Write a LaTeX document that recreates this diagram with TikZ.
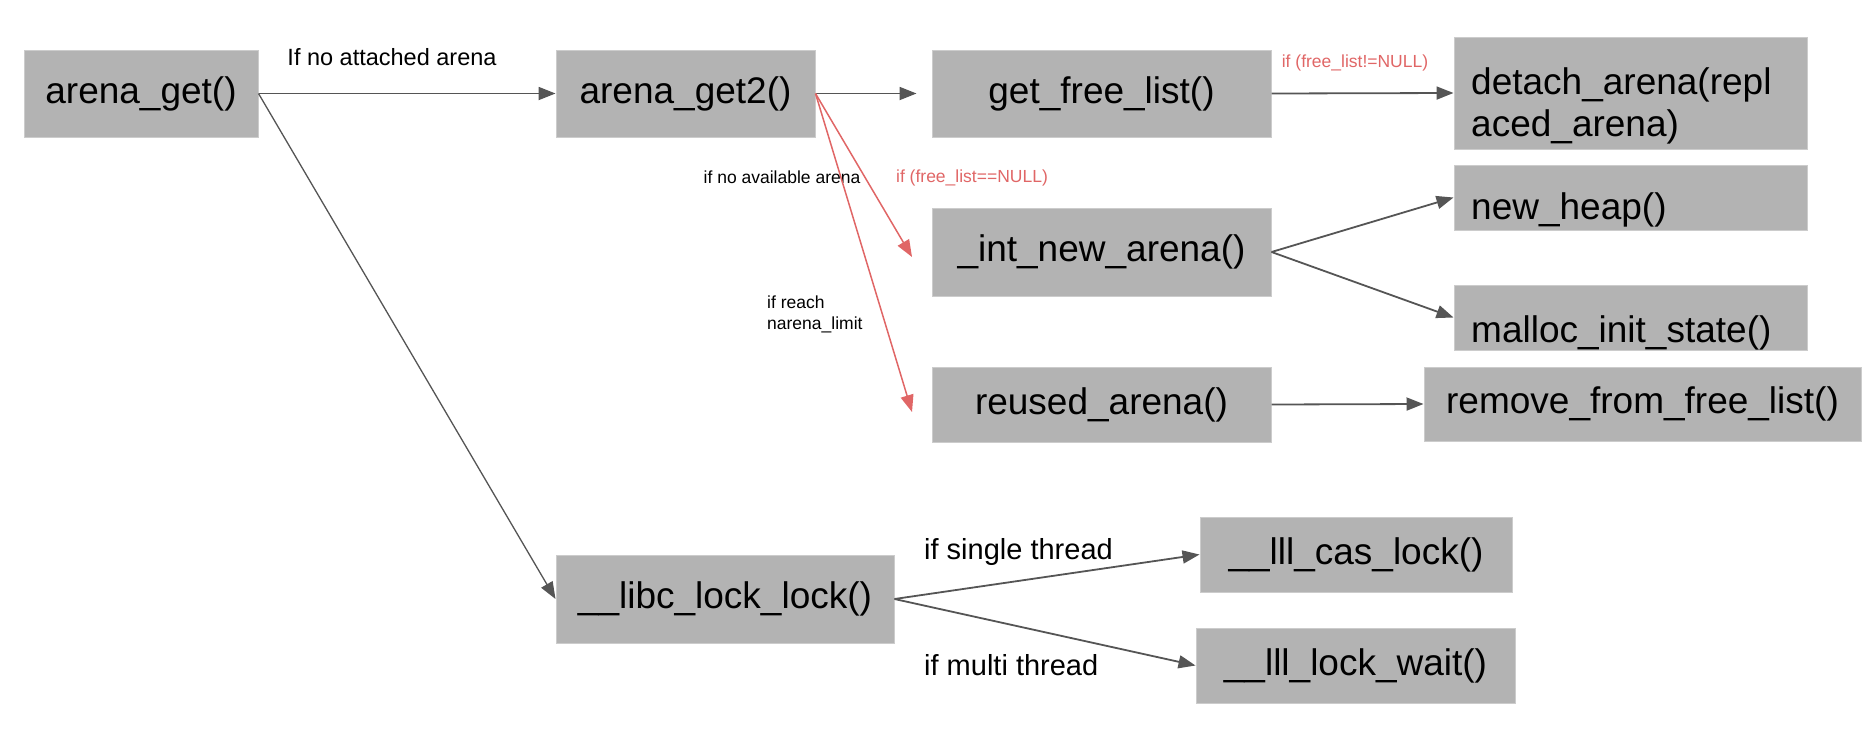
\documentclass[tikz,border=0pt]{standalone}
\usepackage{fontspec}
\setmainfont{Liberation Sans}
\usetikzlibrary{arrows.meta,calc}
\definecolor{boxfill}{HTML}{B3B3B3}
\definecolor{boxline}{HTML}{CCCCCC}
\definecolor{linegray}{HTML}{555555}
\definecolor{redline}{HTML}{E06666}
\begin{document}
\begin{tikzpicture}[x=1pt,y=-1pt,
  box/.style={rectangle, fill=boxfill, draw=boxline, line width=1pt, inner sep=0pt, font=\fontsize{37}{42}\selectfont},
  txt/.style={inner sep=0pt, font=\fontsize{37}{42}\selectfont, anchor=west, align=left},
  lab/.style={inner sep=0pt, font=\fontsize{23.5}{28}\selectfont},
  big/.style={inner sep=0pt, font=\fontsize{29}{34}\selectfont, anchor=west},
  small/.style={inner sep=0pt, font=\fontsize{17.5}{21}\selectfont},
  conn/.style={draw=linegray, line width=1.8pt, -{Triangle[length=17pt,width=13pt]}},
  redconn/.style={draw=redline, line width=1.5pt, -{Triangle[length=17pt,width=13pt]}},
]
\useasboundingbox (0,0) rectangle (1868,734);

% boxes
\node[box, minimum width=234pt, minimum height=87pt] (ag) at (141,93.5) {arena\_get()};
\node[box, minimum width=259pt, minimum height=87pt] (ag2) at (685.5,93.5) {arena\_get2()};
\node[box, minimum width=339pt, minimum height=87pt] (gfl) at (1101.5,93.5) {get\_free\_list()};
\node[box, minimum width=353pt, minimum height=112pt] (det) at (1630.5,93) {};
\node[txt] (detT) at (1471,106) {detach\_arena(repl\\aced\_arena)};
\node[box, minimum width=353pt, minimum height=65pt] (nh) at (1630.5,197.5) {};
\node[txt] (nhT) at (1471,210) {new\_heap()};
\node[box, minimum width=339pt, minimum height=88pt] (ina) at (1101.5,252) {\_int\_new\_arena()};
\node[box, minimum width=353pt, minimum height=65pt] (mis) at (1630.5,317.5) {};
\node[txt] (misT) at (1471,333) {malloc\_init\_state()};
\node[box, minimum width=339pt, minimum height=75pt] (ra) at (1101.5,404.5) {reused\_arena()};
\node[box, minimum width=437pt, minimum height=74pt] (rfl) at (1642.5,404) {remove\_from\_free\_list()};
\node[box, minimum width=338pt, minimum height=88pt] (llk) at (725,599) {\_\_libc\_lock\_lock()};
\node[box, minimum width=312pt, minimum height=75pt] (cas) at (1356,554.5) {\_\_lll\_cas\_lock()};
\node[box, minimum width=319pt, minimum height=75pt] (wait) at (1355.5,665.5) {\_\_lll\_lock\_wait()};

% labels
\node[lab] (lnoatt) at (392,57) {If no attached arena};
\node[small, text=redline] (lnotnull) at (1355,63) {if (free\_list!=NULL)};
\node[small] (lnoavail) at (782,177) {if no available arena};
\node[small, text=redline] (lnull) at (972,178) {if (free\_list==NULL)};
\node[small, anchor=west, align=left] (lreach) at (767,314) {if reach\\narena\_limit};
\node[big] (lsingle) at (924,552) {if single thread};
\node[big] (lmulti) at (924,665) {if multi thread};

% free ends
\coordinate (r1) at (912,257);
\coordinate (r2) at (912,412);

% connectors
\draw[conn] (ag.east) -- (ag2.west);
\draw[conn, shorten >=15pt] (ag2.east) -- (gfl.west);
\draw[conn] (gfl.east) -- (det.west);
\draw[redconn] (ag2.east) -- (r1);
\draw[redconn] (ag2.east) -- (r2);
\draw[conn, line width=1.3pt] (ag.east) -- (llk.west);
\draw[conn] (ina.east) -- (nh.west);
\draw[conn] (ina.east) -- (mis.west);
\draw[conn] (ra.east) -- (rfl.west);
\draw[conn] (llk.east) -- (cas.west);
\draw[conn] (llk.east) -- (wait.west);
\end{tikzpicture}
\end{document}
